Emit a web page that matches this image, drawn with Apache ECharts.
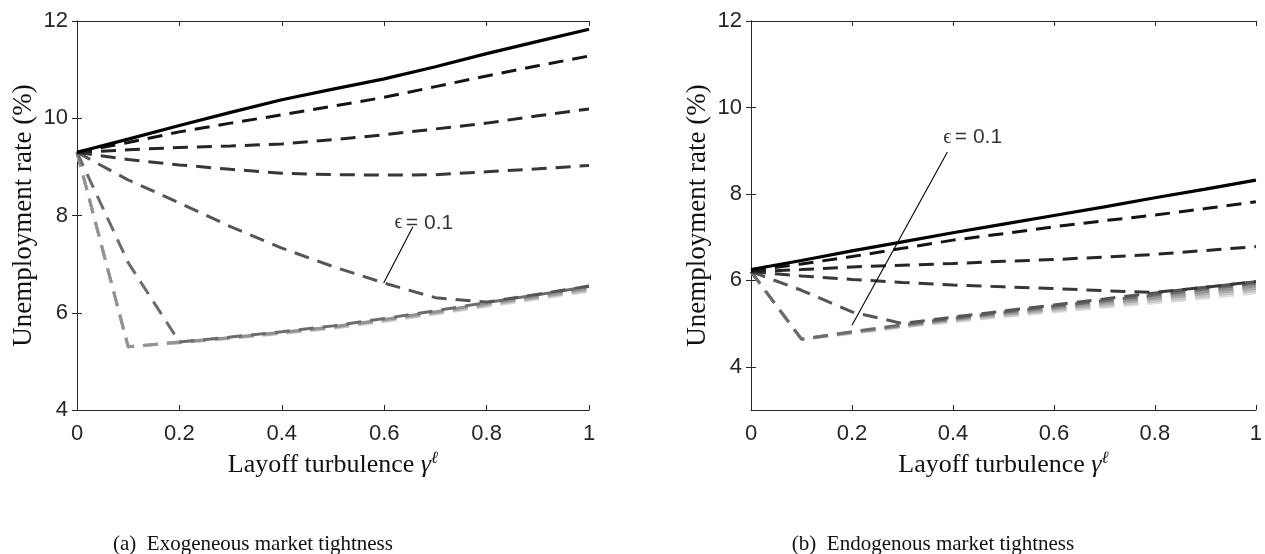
<!DOCTYPE html>
<html>
<head>
<meta charset="utf-8">
<script src="https://cdn.jsdelivr.net/npm/echarts@6/dist/echarts.min.js"></script>
<style>
html,body{margin:0;padding:0;background:#fff;}
#chart{width:1265px;height:554px;}
</style>
</head>
<body>
<div id="chart"></div>
<script>
// ---- data ----
const xVals = [0, 0.1, 0.2, 0.3, 0.4, 0.5, 0.6, 0.7, 0.8, 0.9, 1];
const xTicks = [0, 0.2, 0.4, 0.6, 0.8, 1];
const yTicksLeft = [4, 6, 8, 10, 12];
const yTicksRight = [4, 6, 8, 10, 12];

// (a) Exogeneous market tightness
const exo1  = [9.30, 9.57, 9.85, 10.12, 10.38, 10.60, 10.81, 11.06, 11.33, 11.58, 11.83];
const exo2  = [9.30, 9.50, 9.72, 9.90, 10.07, 10.25, 10.43, 10.65, 10.87, 11.08, 11.28];
const exo3  = [9.30, 9.35, 9.40, 9.43, 9.47, 9.56, 9.66, 9.78, 9.90, 10.05, 10.19];
const exo4  = [9.30, 9.15, 9.04, 8.95, 8.87, 8.84, 8.83, 8.84, 8.90, 8.96, 9.03];
const exo5  = [9.30, 8.73, 8.26, 7.77, 7.33, 6.95, 6.61, 6.31, 6.22, 6.38, 6.55];
const exo6  = [9.30, 7.03, 5.40, 5.50, 5.61, 5.73, 5.88, 6.04, 6.21, 6.37, 6.54];
const exo7  = [9.30, 5.30, 5.40, 5.49, 5.60, 5.71, 5.86, 6.02, 6.19, 6.34, 6.51];
const exo8  = [9.30, 5.30, 5.39, 5.48, 5.59, 5.70, 5.85, 6.00, 6.17, 6.32, 6.48];
const exo9  = [9.30, 5.30, 5.39, 5.48, 5.58, 5.69, 5.83, 5.99, 6.15, 6.30, 6.46];
const exo10 = [9.30, 5.30, 5.38, 5.47, 5.57, 5.68, 5.82, 5.97, 6.13, 6.28, 6.44];

// (b) Endogenous market tightness
const endo1  = [6.25, 6.46, 6.68, 6.89, 7.10, 7.30, 7.50, 7.70, 7.91, 8.11, 8.32];
const endo2  = [6.22, 6.38, 6.55, 6.74, 6.93, 7.08, 7.24, 7.38, 7.51, 7.66, 7.82];
const endo3  = [6.20, 6.25, 6.31, 6.35, 6.39, 6.44, 6.48, 6.54, 6.60, 6.69, 6.78];
const endo4  = [6.20, 6.10, 6.02, 5.95, 5.89, 5.85, 5.81, 5.76, 5.72, 5.84, 5.97];
const endo5  = [6.20, 5.77, 5.27, 5.00, 5.15, 5.29, 5.43, 5.57, 5.71, 5.84, 5.97];
const endo6  = [6.20, 4.64, 4.81, 4.97, 5.12, 5.26, 5.40, 5.53, 5.66, 5.80, 5.93];
const endo7  = [6.20, 4.64, 4.80, 4.95, 5.10, 5.23, 5.36, 5.49, 5.61, 5.74, 5.87];
const endo8  = [6.20, 4.64, 4.79, 4.94, 5.08, 5.21, 5.33, 5.45, 5.57, 5.69, 5.81];
const endo9  = [6.20, 4.64, 4.78, 4.93, 5.06, 5.18, 5.30, 5.41, 5.52, 5.64, 5.76];
const endo10 = [6.20, 4.64, 4.77, 4.92, 5.04, 5.16, 5.27, 5.38, 5.48, 5.59, 5.71];

// annotation "ϵ = 0.1" (pointer line endpoints and label anchor, in data units)
const annoLeftLine = [[0.599, 6.61], [0.656, 7.77]];
const annoLeftText = [0.62, 7.85];
const annoRightLine = [[0.200, 4.96], [0.389, 8.97]];
const annoRightText = [0.381, 9.31];
const annoLabel = '0.1';

const exoSeries = [exo1, exo2, exo3, exo4, exo5, exo6, exo7, exo8, exo9, exo10];
const endoSeries = [endo1, endo2, endo3, endo4, endo5, endo6, endo7, endo8, endo9, endo10];
const shades = ['#000000', '#141414', '#262626', '#383838', '#555555', '#6c6c6c', '#939393', '#adadad', '#c6c6c6', '#dedede'];

// ---- build ----
const axisColor = '#262626';
const sans = 'Liberation Sans, Arial, sans-serif';
const tickFont = {fontFamily: sans, fontSize: 22, color: axisColor};
const serif = 'Liberation Serif, Times New Roman, serif';
const titleSize = 27;

function xAxisPair(gridIndex) {
  return [
    {
      type: 'value', gridIndex, min: 0, max: 1, position: 'bottom',
      axisLine: {show: true, lineStyle: {color: axisColor, width: 1}},
      axisTick: {show: true, inside: true, length: 5, customValues: xTicks, lineStyle: {color: axisColor}},
      axisLabel: Object.assign({show: true, margin: 13, customValues: xTicks}, tickFont),
      splitLine: {show: false},
      name: '{t|Layoff turbulence }{g|γ}{s|ℓ}',
      nameLocation: 'middle', nameGap: 26,
      nameTextStyle: {
        rich: {
          t: {fontFamily: serif, fontSize: 26, lineHeight: 28, color: '#111', verticalAlign: 'bottom'},
          g: {fontFamily: serif, fontSize: 26, lineHeight: 28, fontStyle: 'italic', color: '#111', verticalAlign: 'bottom'},
          s: {fontFamily: serif, fontSize: 17, lineHeight: 17, fontStyle: 'italic', color: '#111', verticalAlign: 'top'}
        }
      }
    },
    {
      type: 'value', gridIndex, min: 0, max: 1, position: 'top',
      axisLine: {show: true, lineStyle: {color: axisColor, width: 1}},
      axisTick: {show: true, inside: true, length: 5, customValues: xTicks, lineStyle: {color: axisColor}},
      axisLabel: {show: false}, splitLine: {show: false}
    }
  ];
}
function yAxisPair(gridIndex, min, max, ticks) {
  return [
    {
      type: 'value', gridIndex, min, max, position: 'left',
      axisLine: {show: true, lineStyle: {color: axisColor, width: 1}},
      axisTick: {show: true, inside: true, length: 5, customValues: ticks, lineStyle: {color: axisColor}},
      axisLabel: Object.assign({show: true, margin: 9, customValues: ticks}, tickFont),
      splitLine: {show: false},
      name: 'Unemployment rate (%)', nameLocation: 'middle', nameGap: 40,
      nameTextStyle: {fontFamily: serif, fontSize: titleSize, color: '#111'}
    },
    {
      type: 'value', gridIndex, min, max, position: 'right',
      axisLine: {show: true, lineStyle: {color: axisColor, width: 1}},
      axisTick: {show: true, inside: true, length: 5, customValues: ticks, lineStyle: {color: axisColor}},
      axisLabel: {show: false}, splitLine: {show: false}
    }
  ];
}

const series = [];
function addLines(dataSets, xIdx, yIdx) {
  // lightest drawn first so darker lines sit on top
  for (let i = dataSets.length - 1; i >= 0; i--) {
    series.push({
      type: 'line', xAxisIndex: xIdx, yAxisIndex: yIdx,
      data: xVals.map((x, k) => [x, dataSets[i][k]]),
      showSymbol: false, symbol: 'none', silent: true, animation: false,
      lineStyle: {color: shades[i], width: i === 0 ? 3.2 : 3, type: i === 0 ? 'solid' : [15, 9], cap: 'butt'}
    });
  }
}
addLines(exoSeries, 0, 0);
addLines(endoSeries, 2, 2);

function addAnno(lineData, textPos, xIdx, yIdx) {
  series.push({
    type: 'line', xAxisIndex: xIdx, yAxisIndex: yIdx, data: lineData,
    showSymbol: false, symbol: 'none', silent: true, animation: false, z: 10,
    lineStyle: {color: '#000', width: 1.1}
  });
  series.push({
    type: 'scatter', xAxisIndex: xIdx, yAxisIndex: yIdx, data: [textPos],
    symbolSize: 0, silent: true, animation: false, z: 11,
    label: {
      show: true, position: 'right', distance: 0,
      formatter: '{e|ϵ} {n|= ' + annoLabel + '}',
      rich: {
        e: {fontFamily: serif, fontSize: 20, color: '#000'},
        n: {fontFamily: sans, fontSize: 21, color: '#000'}
      }
    }
  });
}
addAnno(annoLeftLine, annoLeftText, 0, 0);
addAnno(annoRightLine, annoRightText, 2, 2);

const option = {
  backgroundColor: '#ffffff',
  animation: false,
  title: [
    {text: '(a)  Exogeneous market tightness', left: 248, top: 529, textAlign: 'center',
     textStyle: {fontFamily: serif, fontSize: 21, fontWeight: 'normal', color: '#111'}},
    {text: '(b)  Endogenous market tightness', left: 928, top: 529, textAlign: 'center',
     textStyle: {fontFamily: serif, fontSize: 21, fontWeight: 'normal', color: '#111'}}
  ],
  grid: [
    {left: 77, top: 21, width: 512, height: 389},
    {left: 751, top: 21, width: 511, height: 389}
  ],
  xAxis: [...xAxisPair(0), ...xAxisPair(1)],
  yAxis: [...yAxisPair(0, 4, 12, yTicksLeft), ...yAxisPair(1, 3, 12, yTicksRight)],
  series
};

const chart = echarts.init(document.getElementById('chart'), null, {renderer: 'canvas'});
chart.setOption(option);
</script>
</body>
</html>
